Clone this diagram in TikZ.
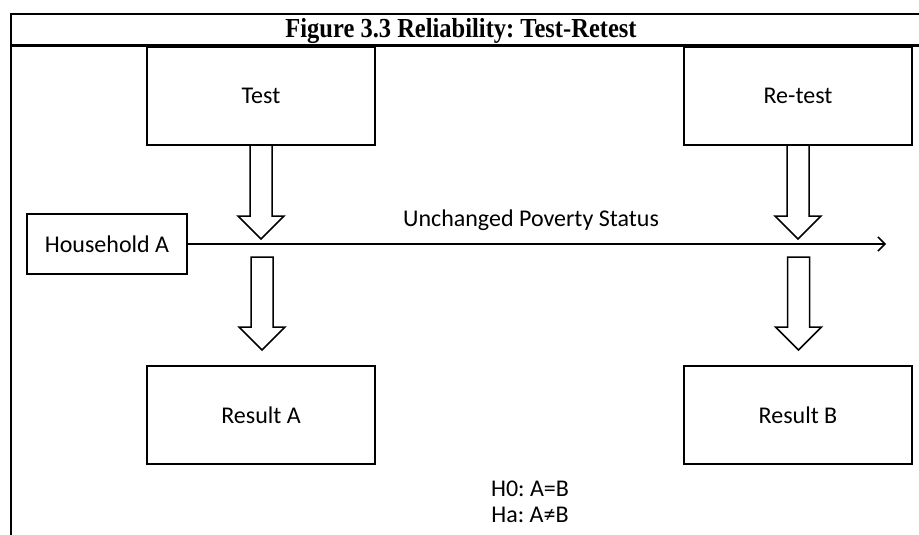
\documentclass[tikz,border=0pt]{standalone}
\usepackage{fontspec}
\setmainfont{Carlito}
\newfontfamily\titlefont{Liberation Serif}
\usetikzlibrary{calc,arrows.meta}
\frenchspacing
\newcommand\blockarr[3]{%
  \draw[blockarrow] (#1-11,#2) -- (#1-11,#3-23) -- (#1-23,#3-23) -- (#1,#3) -- (#1+23,#3-23) -- (#1+11,#3-23) -- (#1+11,#2) -- cycle;}
\begin{document}
\begin{tikzpicture}[x=1pt,y=-1pt,
  box/.style={draw,line width=1.5pt,minimum width=228pt,minimum height=98pt,inner sep=0pt,font=\fontsize{24}{28}\selectfont},
  frameline/.style={line width=2.6pt},
  blockarrow/.style={draw,line width=1.5pt,fill=white,line join=miter},
  plain/.style={inner sep=0pt,font=\fontsize{24}{28}\selectfont}
]
\useasboundingbox (0,0) rectangle (919,535);
\draw[frameline] (11,535) -- (11,14) -- (919,14);
\draw[frameline] (11,45.5) -- (919,45.5);
\node[anchor=base,inner sep=0pt,font=\titlefont\bfseries\fontsize{25}{30}\selectfont] (title) at (461,38) {\scalebox{0.98}[1.1]{Figure 3.3 Reliability: Test-Retest}};
\node[box] (test) at (261,96) {Test};
\node[box] (retest) at (798,96) {Re-test};
\node[box] (resA) at (261,415) {Result A};
\node[box] (resB) at (798,415) {Result B};
\node[box,minimum width=160pt,minimum height=60pt] (hh) at (107,244) {Household A};
\coordinate (end) at (886,244);
\draw[line width=1.3pt,-{Straight Barb[length=7pt,width=14pt,line width=1.5pt]}] (hh.east) -- (end);
\node[plain] (status) at (531,220) {Unchanged Poverty Status};
\blockarr{261}{145}{239}
\blockarr{798}{145}{239}
\blockarr{262}{257}{350}
\blockarr{798.5}{257}{350}
\node[plain] (h0) at (530,489) {H0: A=B};
\node[plain] (ha) at (530,515) {Ha: A≠B};
\end{tikzpicture}
\end{document}
